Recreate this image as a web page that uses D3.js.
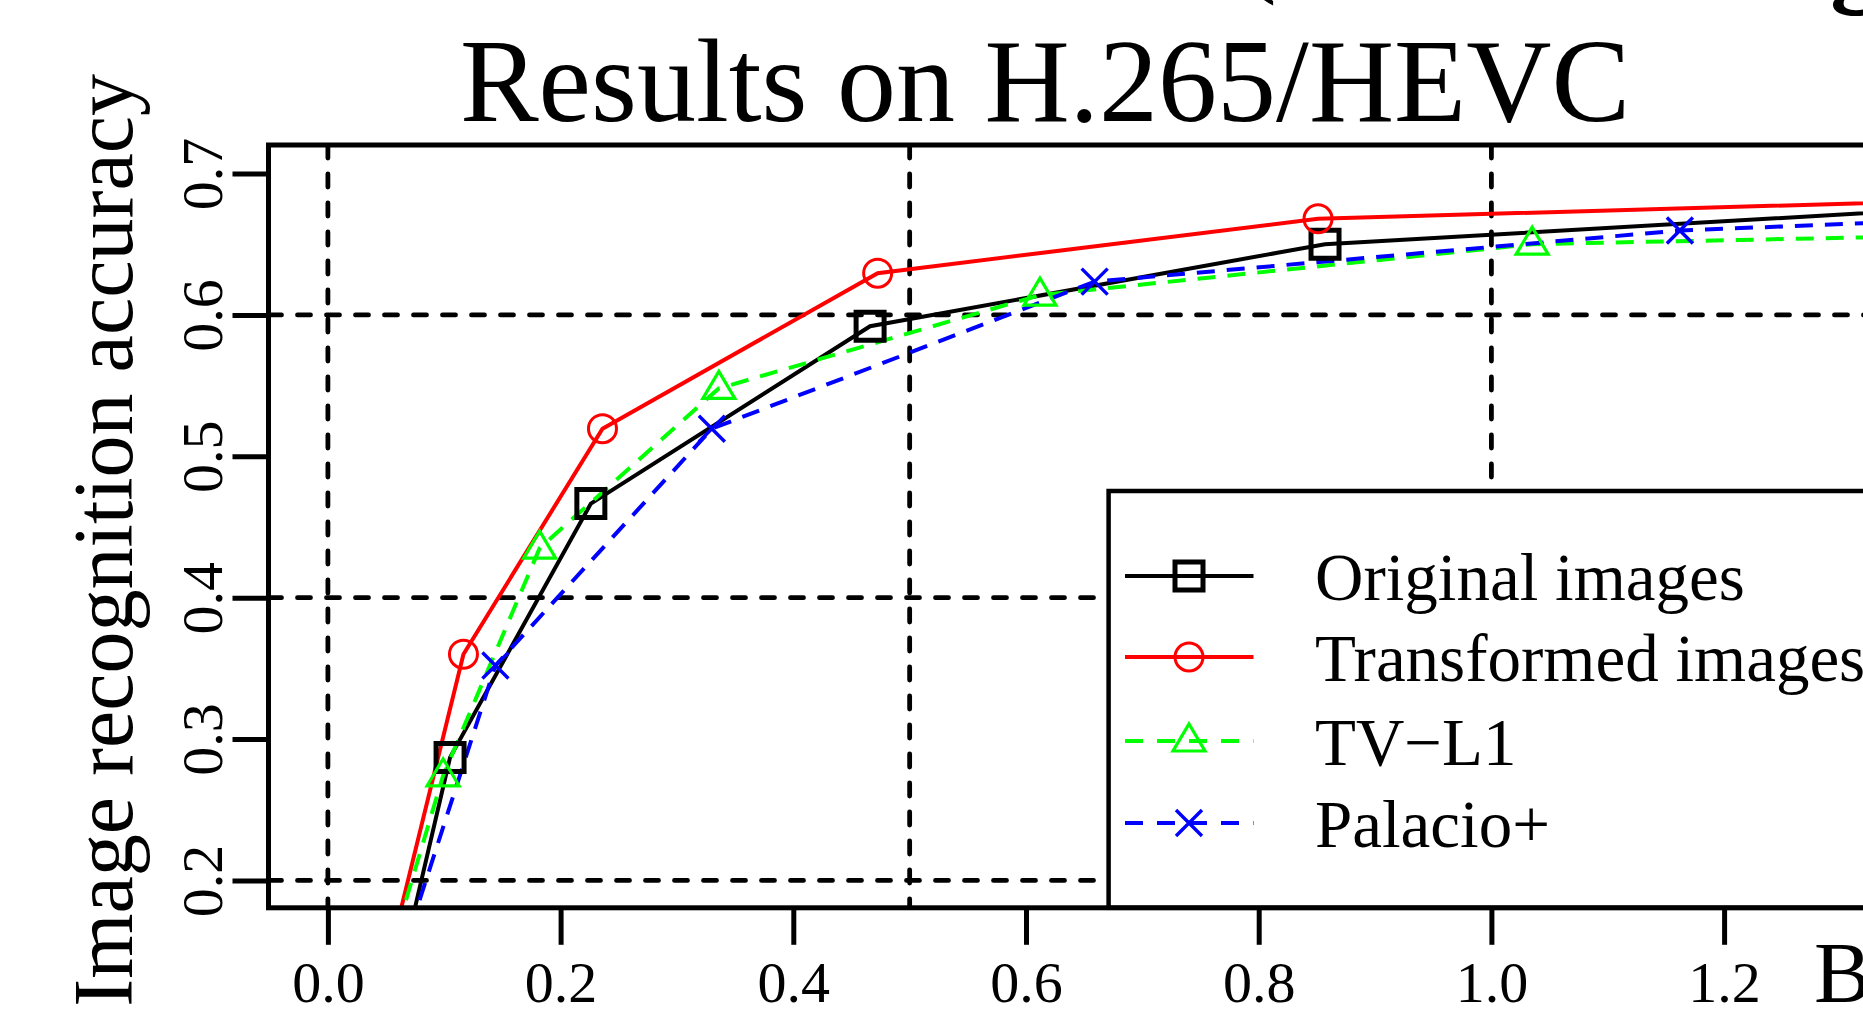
<!DOCTYPE html>
<html lang="en">
<head>
<meta charset="UTF-8">
<script src="https://d3js.org/d3.v7.min.js"></script>
<style>
body { margin: 0; background: #fff; }
svg { display: block; font-family: "Liberation Serif", "Times New Roman", serif; }
.grid { stroke: #000; stroke-width: 4.8; stroke-dasharray: 13,16; stroke-linecap: round; fill: none; }
.frame { fill: none; stroke: #000; stroke-width: 5; }
.tick line { stroke: #000; stroke-width: 5; }
.tick text { font-size: 58px; fill: #000; }
.series { fill: none; stroke-width: 4; }
.marker { fill: none; }
</style>
<title>Results on H.265/HEVC</title>
</head>
<body>
<svg class="chart"></svg>
<script>
// values (bitrate, accuracy)
const seriesNames = ['Original images', 'Transformed images', 'TV\u2212L1', 'Palacio+'];
const originalX = [0.050, 0.105, 0.226, 0.466, 0.857, 1.450];
const originalY = [0.093, 0.287, 0.4665, 0.592, 0.650, 0.678];
const transformedX = [0.045, 0.1165, 0.236, 0.4725, 0.851, 1.450];
const transformedY = [0.120, 0.360, 0.5195, 0.6295, 0.668, 0.682];
const tvl1X = [0.045, 0.099, 0.182, 0.336, 0.612, 1.035, 1.450];
const tvl1Y = [0.125, 0.274, 0.435, 0.548, 0.614, 0.650, 0.657];
const palacioX = [0.055, 0.144, 0.330, 0.659, 1.162, 1.450];
const palacioY = [0.1255, 0.352, 0.5195, 0.6235, 0.6597, 0.669];
const xTicks = [0.0, 0.2, 0.4, 0.6, 0.8, 1.0, 1.2];
const yTicks = [0.2, 0.3, 0.4, 0.5, 0.6, 0.7];
const xGridAt = [0.0, 0.5, 1.0];
const yGridAt = [0.2, 0.4, 0.6];

let width = 1863, height = 1010;
let box = { left: 268.5, top: 145, right: 1920, bottom: 907.8 };

let svg = d3.select('.chart')
    .attr('width', width)
    .attr('height', height);

let x = d3.scaleLinear().domain([0, 1.2]).range([327.9, 1724.1]);
let y = d3.scaleLinear().domain([0.2, 0.7]).range([880.4, 173.5]);

let style = [
    { color: '#000000', dash: null, shape: 'square' },
    { color: '#ff0000', dash: null, shape: 'circle' },
    { color: '#00ff00', dash: '18,12', shape: 'triangle' },
    { color: '#0000ff', dash: '18,12', shape: 'cross' }
];
let series = [
    { xs: originalX, ys: originalY },
    { xs: transformedX, ys: transformedY },
    { xs: tvl1X, ys: tvl1Y },
    { xs: palacioX, ys: palacioY }
].map((s, i) => ({ name: seriesNames[i], ...style[i], pts: s.xs.map((v, j) => [v, s.ys[j]]) }));

// marker outlines, like R pch 0, 1, 2, 4
let markerPath = shape => {
    if (shape === 'square') return 'M-14,-14H14V14H-14Z';
    if (shape === 'circle') return 'M-14,0A14,14 0 1,0 14,0A14,14 0 1,0 -14,0Z';
    if (shape === 'triangle') return 'M0,-17L16,10L-16,10Z';
    return 'M-13,-13L13,13M-13,13L13,-13';
};
let markerWidth = { square: 5, circle: 3, triangle: 3.2, cross: 3.4 };

svg.append('defs').append('clipPath').attr('id', 'plotclip')
    .append('rect')
    .attr('x', box.left).attr('y', box.top)
    .attr('width', box.right - box.left).attr('height', box.bottom - box.top);

// cut-off text from the figure above
svg.append('text').attr('x', 1240).attr('y', -18)
    .style('font-size', '110px').text('(');
svg.append('text').attr('x', 1830).attr('y', -8)
    .style('font-size', '110px').style('font-weight', 'bold').text('g');

// title
svg.append('text')
    .attr('x', 1045).attr('y', 121)
    .attr('text-anchor', 'middle')
    .style('font-size', '118px')
    .text('Results on H.265/HEVC');

// axis titles
svg.append('text')
    .attr('transform', 'translate(132,74) rotate(-90)')
    .attr('text-anchor', 'end')
    .style('font-size', '84px')
    .text('Image recognition accuracy');
svg.append('text')
    .attr('x', 1814).attr('y', 1002)
    .style('font-size', '86px')
    .text('Bitrate (bpp)');

let plot = svg.append('g').attr('clip-path', 'url(#plotclip)');

// dashed reference lines
plot.selectAll('.vgrid').data(xGridAt).enter().append('line')
    .attr('class', 'grid')
    .attr('x1', d => x(d)).attr('x2', d => x(d))
    .attr('y1', box.top).attr('y2', box.bottom);
plot.selectAll('.hgrid').data(yGridAt).enter().append('line')
    .attr('class', 'grid')
    .attr('x1', box.left).attr('x2', box.right)
    .attr('y1', d => y(d)).attr('y2', d => y(d));

let line = d3.line().x(d => x(d[0])).y(d => y(d[1]));

plot.selectAll('.series').data(series).enter().append('path')
    .attr('class', 'series')
    .attr('d', d => line(d.pts))
    .attr('stroke', d => d.color)
    .attr('stroke-dasharray', d => d.dash);

series.forEach(s => {
    plot.selectAll(null).data(s.pts).enter().append('path')
        .attr('class', 'marker')
        .attr('transform', d => 'translate(' + x(d[0]) + ',' + y(d[1]) + ')')
        .attr('d', markerPath(s.shape))
        .attr('stroke', s.color)
        .attr('stroke-width', markerWidth[s.shape]);
});

// legend
let leg = { left: 1108.6, top: 491, rowY: [576, 657, 741, 823] };
svg.append('rect')
    .attr('x', leg.left).attr('y', leg.top)
    .attr('width', 900).attr('height', box.bottom - leg.top)
    .attr('fill', '#fff').attr('stroke', '#000').attr('stroke-width', 4.5);
let rows = svg.selectAll('.leg').data(series).enter().append('g')
    .attr('transform', (d, i) => 'translate(0,' + leg.rowY[i] + ')');
rows.append('line')
    .attr('x1', 1125).attr('x2', 1253.5)
    .attr('stroke', d => d.color).attr('stroke-width', 4)
    .attr('stroke-dasharray', d => d.dash ? '18,14' : null);
rows.append('path')
    .attr('transform', 'translate(1189,0)')
    .attr('d', d => markerPath(d.shape))
    .attr('fill', 'none')
    .attr('stroke', d => d.color)
    .attr('stroke-width', d => markerWidth[d.shape]);
rows.append('text')
    .attr('x', 1315).attr('y', 24)
    .style('font-size', '67px')
    .text(d => d.name);

// axes on the box edges
let xAxis = d3.axisBottom(x).tickValues(xTicks).tickFormat(d3.format('.1f'))
    .tickSize(37).tickPadding(16);
let yAxis = d3.axisLeft(y).tickValues(yTicks).tickFormat(d3.format('.1f'))
    .tickSize(36).tickPadding(12);

svg.append('g')
    .attr('transform', 'translate(0,' + box.bottom + ')')
    .call(xAxis)
    .attr('font-family', null).attr('font-size', null)
    .call(g => g.select('.domain').remove())
    .call(g => g.selectAll('.tick text').attr('dy', '0.71em'));

svg.append('g')
    .attr('transform', 'translate(' + box.left + ',0)')
    .call(yAxis)
    .attr('font-family', null).attr('font-size', null)
    .call(g => g.select('.domain').remove())
    .call(g => g.selectAll('.tick text')
        .attr('x', null).attr('dy', null)
        .attr('text-anchor', 'middle')
        .attr('transform', 'translate(-47,0) rotate(-90)'));

svg.append('rect').attr('class', 'frame')
    .attr('x', box.left).attr('y', box.top)
    .attr('width', box.right - box.left).attr('height', box.bottom - box.top);
</script>
</body>
</html>
